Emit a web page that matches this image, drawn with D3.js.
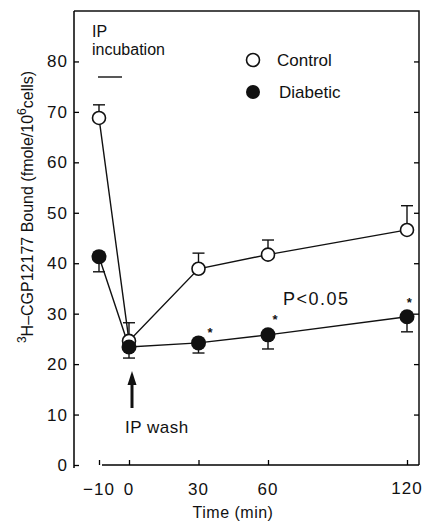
<!DOCTYPE html>
<html><head><meta charset="utf-8">
<script src="https://cdn.jsdelivr.net/npm/d3@7/dist/d3.min.js"></script>
<style>body{margin:0;background:#fff}svg{display:block}text{font-family:"Liberation Sans",Arial,sans-serif;fill:#111}</style>
</head><body><svg id="c" width="429" height="523"></svg>
<script>
const times = [-10, 0, 30, 60, 120];
const controlMean = [68.8, 24.6, 38.9, 41.7, 46.6];
const controlUpper = [71.4, 28.2, 42.0, 44.6, 51.4];
const diabeticMean = [41.3, 23.4, 24.2, 25.8, 29.4];
const diabeticLower = [38.3, 21.2, 22.2, 23.0, 26.4];
const starTimes = [35, 63, 121];
const starValues = [26.8, 29.4, 32.7];
const xTicks = [-10, 0, 30, 60, 120];
const yTicks = [0, 10, 20, 30, 40, 50, 60, 70, 80];

(function(){
const svg = d3.select("#c");
const x = d3.scaleLinear().domain([-10, 0, 120]).range([99, 129, 407]);
const y = d3.scaleLinear().domain([0, 90]).range([465, 11]);
const L = 74, R = 419, T = y(90), B = y(0);

svg.append("path").attr("d", `M${L},${T}L${R},${T}L${R},${B}`)
  .attr("fill","none").attr("stroke","#111").attr("stroke-width",1.5);

const yAxisL = d3.axisRight(y).tickValues(yTicks).tickSize(5).tickFormat("");
const gl = svg.append("g").attr("transform",`translate(${L},0)`).call(yAxisL);
gl.select(".domain").attr("stroke-width",1.5).attr("d",`M0,${T}V${B+3}`);
gl.selectAll(".tick line").attr("stroke-width",1.3);
svg.append("g").selectAll("text").data(yTicks).join("text")
  .attr("x", L-6).attr("y", d=>y(d)+6).attr("text-anchor","end")
  .style("font-size","17px").style("letter-spacing","1px").text(d=>d);

const yAxisR = d3.axisLeft(y).tickValues(yTicks.slice(1)).tickSize(5).tickFormat("");
const gr = svg.append("g").attr("transform",`translate(${R},0)`).call(yAxisR);
gr.select(".domain").remove();
gr.selectAll(".tick line").attr("stroke-width",1.3);

const xAxis = d3.axisTop(x).tickValues(xTicks).tickSize(5).tickFormat("");
const gx = svg.append("g").attr("transform",`translate(0,${B})`).call(xAxis);
gx.select(".domain").attr("stroke-width",1.5).attr("d",`M${x(-10)+3},0H${R}`);
gx.selectAll(".tick line").attr("stroke-width",1.3);
svg.append("g").selectAll("text").data(xTicks).join("text")
  .attr("x", d=>x(d)).attr("y", d=> d===120 ? 494 : 495).attr("text-anchor","middle")
  .style("font-size","17px").style("letter-spacing","1px")
  .text(d=> d<0 ? "\u2212"+Math.abs(d) : d);

svg.append("text").attr("x",233).attr("y",518).attr("text-anchor","middle")
  .style("font-size","16px").style("letter-spacing","0.5px").text("Time (min)");

const yl = svg.append("text").attr("transform","translate(33,207) rotate(-90)")
  .attr("text-anchor","middle").style("font-size","16px");
yl.append("tspan").style("font-size","12px").attr("dy","-7").text("3");
yl.append("tspan").attr("dy","7").text("H\u2013CGP12177 Bound (fmole/10");
yl.append("tspan").style("font-size","12px").attr("dy","-7").text("6");
yl.append("tspan").attr("dy","7").text("cells)");

const control = times.map((t,i)=>({t, m:controlMean[i], e:controlUpper[i]}));
const diabetic = times.map((t,i)=>({t, m:diabeticMean[i], e:diabeticLower[i]}));
const line = d3.line().x(d=>x(d.t)).y(d=>y(d.m));

function errs(data){
  const g = svg.append("g").attr("stroke","#111").attr("stroke-width",1.4);
  g.selectAll("line.v").data(data).join("line").attr("class","v")
    .attr("x1",d=>x(d.t)).attr("x2",d=>x(d.t)).attr("y1",d=>y(d.m)).attr("y2",d=>y(d.e));
  g.selectAll("line.c").data(data).join("line").attr("class","c")
    .attr("x1",d=>x(d.t)-6).attr("x2",d=>x(d.t)+6).attr("y1",d=>y(d.e)).attr("y2",d=>y(d.e));
}
errs(control); errs(diabetic);
svg.append("path").datum(control).attr("d",line).attr("fill","none").attr("stroke","#111").attr("stroke-width",1.4);
svg.append("path").datum(diabetic).attr("d",line).attr("fill","none").attr("stroke","#111").attr("stroke-width",1.4);
svg.append("g").selectAll("circle").data(control).join("circle")
  .attr("cx",d=>x(d.t)).attr("cy",d=>y(d.m)).attr("r",6.5)
  .attr("fill","#fff").attr("stroke","#111").attr("stroke-width",1.6);
svg.append("g").selectAll("circle").data(diabetic).join("circle")
  .attr("cx",d=>x(d.t)).attr("cy",d=>y(d.m)).attr("r",7.5).attr("fill","#111");

svg.append("g").selectAll("text").data(starTimes.map((t,i)=>({t,v:starValues[i]}))).join("text")
  .attr("x",d=>x(d.t)).attr("y",d=>y(d.v)+7).attr("text-anchor","middle")
  .style("font-size","13px").style("font-weight","bold").text("*");

svg.append("circle").attr("cx",253).attr("cy",60).attr("r",6.5).attr("fill","#fff").attr("stroke","#111").attr("stroke-width",1.6);
svg.append("text").attr("x",277).attr("y",66).style("font-size","17px").text("Control");
svg.append("circle").attr("cx",253).attr("cy",92).attr("r",7).attr("fill","#111");
svg.append("text").attr("x",279).attr("y",98).style("font-size","17px").text("Diabetic");

svg.append("text").attr("x",92).attr("y",37).style("font-size","16px").text("IP");
svg.append("text").attr("x",92).attr("y",55).style("font-size","16px").text("incubation");
svg.append("line").attr("x1",98).attr("x2",122).attr("y1",77).attr("y2",77).attr("stroke","#111").attr("stroke-width",1.4);
svg.append("text").attr("x",283).attr("y",305).style("font-size","18px").style("letter-spacing","1.5px").text("P<0.05");
svg.append("line").attr("x1",x(0)+3).attr("x2",x(0)+3).attr("y1",408).attr("y2",382).attr("stroke","#111").attr("stroke-width",3);
svg.append("path").attr("d",`M${x(0)+3},371L${x(0)-1.5},385L${x(0)+7.5},385Z`).attr("fill","#111");
svg.append("text").attr("x",125).attr("y",433).style("font-size","17px").style("letter-spacing","0.5px").text("IP wash");
})();
</script></body></html>
